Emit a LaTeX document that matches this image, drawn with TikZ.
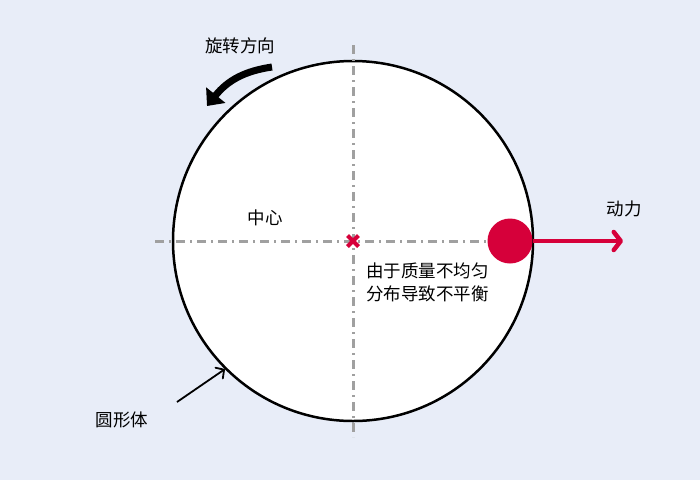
\documentclass[tikz,border=0pt]{standalone}
\usepackage{fontspec}
\setmainfont{Noto Sans CJK SC}
\usetikzlibrary{arrows.meta,positioning}
\definecolor{bgblue}{RGB}{232,237,248}
\definecolor{massred}{RGB}{214,0,58}
\definecolor{axisgray}{RGB}{160,160,160}
\tikzstyle{label} = [inner sep=1pt, font=\fontsize{17.5}{23}\selectfont, text=black]
\tikzstyle{axis} = [axisgray, line width=3pt, dash pattern=on 9pt off 5pt on 2pt off 5pt]
\begin{document}
\begin{tikzpicture}[x=1pt,y=-1pt]
        \fill[bgblue] (0,0) rectangle (700,480);
        \useasboundingbox (0,0) rectangle (700,480);
        \node[circle, draw=black, line width=2.5pt, fill=white, minimum size=360pt, inner sep=0pt] (body) at (353,241) {};
        \coordinate (O) at (body.center);
        \coordinate (L) at (155,241);
        \coordinate (T) at (353,45);
        \coordinate (D) at (353,437);
        \node[circle, fill=massred, minimum size=45pt, inner sep=0pt] (M) at (510,241) {};
        \draw[axis] (L) -- (M.west);
        \draw[axis] (T) -- (D);
        \draw[massred, line width=4pt] ([shift={(-5.5,-5.5)}]O) -- ([shift={(5.5,5.5)}]O) ([shift={(-5.5,5.5)}]O) -- ([shift={(5.5,-5.5)}]O);
        \node[label] (centre) at (265,218) {中心};
        \node[label, align=left, anchor=north west] (note) at (365,262) {由于质量不均匀\\分布导致不平衡};
        \coordinate (F) at (623,241);
        \node[label] (force) at (624,209) {动力};
        \node[label] (shape) at (122,420) {圆形体};
        \coordinate (S) at (177,402);
        \coordinate (R) at (272,67);
        \coordinate (Rend) at (207,106);
        \node[label] (rot) at (240,46) {旋转方向};
        \begin{scope}[-{Straight Barb[length=7pt,width=18pt,round]}]
            \draw[massred, line width=4.5pt] (M.east) -- (F);
            \draw[black, line width=1.8pt, -{Straight Barb[length=6pt,width=13pt,round]}] (S) -- (body.225);
        \end{scope}
        \draw[black, line width=7pt, -{Triangle[length=14pt,width=24pt]}] (R) .. controls (245,71) and (228,80) .. (Rend);
    \end{tikzpicture}
\end{document}
